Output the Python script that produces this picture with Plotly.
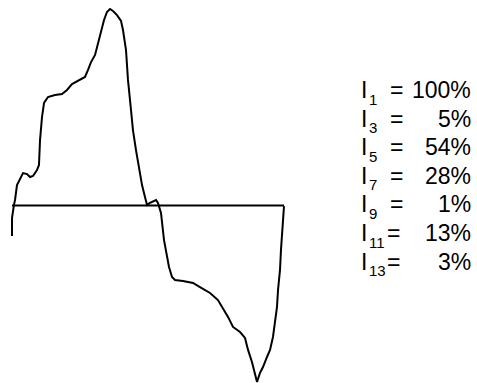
import plotly.graph_objects as go

# Current waveform over one period: phase angle (deg) and current (% of peak)
phase_deg = [0, 0, 2.6, 4.0, 6.6, 10.6, 14.6, 19.9, 23.8, 27.8, 33.1, 35.7, 37.1,
             39.7, 42.4, 47.6, 56.9, 66.2, 72.8, 79.4, 90.0, 96.6, 100.6, 104.6,
             109.9, 113.8, 117.8, 121.8, 125.7, 129.7, 133.7, 139.0, 144.3, 146.9,
             150.9, 153.5, 157.5, 160.1, 164.1, 168.1, 172.1, 176.0, 178.7, 182.6,
             190.6, 193.2, 197.2, 201.2, 205.1, 207.8, 211.8, 215.7, 226.3, 239.6,
             248.8, 262.1, 272.6, 279.3, 285.9, 292.5, 301.8, 308.4, 312.4, 317.6,
             321.6, 324.3, 328.2, 332.2, 337.5, 341.5, 345.4, 348.1, 350.7, 352.1,
             354.7, 356.0, 358.7, 360.0]
current_pct = [-15.5, -6.4, 0.3, 2.8, 10.4, 13.5, 16.5, 16.0, 14.5, 15.0, 18.1, 20.6, 33.3,
               45.0, 52.2, 55.2, 56.2, 56.7, 58.8, 61.8, 63.9, 65.4, 69.0, 73.0,
               76.6, 82.2, 87.8, 94.4, 98.5, 100.0, 99.0, 96.9, 93.9, 89.3,
               79.1, 63.9, 48.6, 38.4, 28.2, 18.1, 10.4, 4.3, 0.3, 1.3,
               2.8, 1.3, -3.8, -17.6, -26.2, -31.3, -36.4, -37.9, -38.4, -39.4,
               -41.5, -44.5, -48.1, -52.2, -56.7, -61.8, -64.4, -67.4, -73.5, -79.6,
               -85.2, -89.8, -85.2, -82.2, -77.1, -73.5, -66.9, -58.3, -51.7, -43.0,
               -32.8, -22.6, -8.9, -0.3]

# Harmonic content
harmonic_order = [1, 3, 5, 7, 9, 11, 13]
harmonic_pct = [100, 5, 54, 28, 1, 13, 3]

W, H = 477, 383
FONT = "Liberation Sans, Arial, sans-serif"
FS = 23       # main text size
FS_SUB = 15   # subscript size

fig = go.Figure()

# zero axis
fig.add_trace(go.Scatter(x=[0, 360], y=[0, 0], mode="lines",
                         line=dict(color="black", width=2), hoverinfo="skip"))
# waveform
fig.add_trace(go.Scatter(x=phase_deg, y=current_pct, mode="lines",
                         line=dict(color="black", width=2), hoverinfo="skip"))


def txt(s, x, y, anchor, size):
    return dict(text=s, x=x / W, y=1 - y / H, xref="paper", yref="paper",
                xanchor=anchor, yanchor="middle", showarrow=False,
                font=dict(family=FONT, size=size, color="black"))


# harmonic table on the right
row_top = 90
row_step = 28.6
annotations = []
for i, (n, v) in enumerate(zip(harmonic_order, harmonic_pct)):
    yc = row_top + i * row_step
    annotations.append(txt("I", 359, yc, "left", FS))
    annotations.append(txt(str(n), 366.5, yc + 9, "left", FS_SUB))
    annotations.append(txt("=", 396 if n < 10 else 393, yc, "center", FS))
    annotations.append(txt(f"{v}%", 473, yc, "right", FS))

# axis ranges map 0..360 deg onto the left part of the canvas
deg_per_px = 360 / 272
pct_per_px = 1 / 1.965
fig.update_layout(
    width=W, height=H,
    margin=dict(l=0, r=0, t=0, b=0),
    paper_bgcolor="white", plot_bgcolor="white",
    showlegend=False,
    xaxis=dict(range=[-12 * deg_per_px, (W - 12) * deg_per_px], visible=False, fixedrange=True),
    yaxis=dict(range=[-(H - 205.5) * pct_per_px, 205.5 * pct_per_px], visible=False, fixedrange=True),
    annotations=annotations,
)

fig.write_html("out.html")
